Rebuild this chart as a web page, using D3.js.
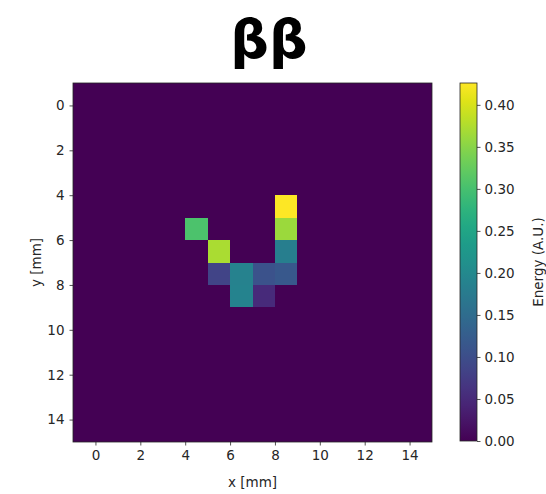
<!DOCTYPE html>
<html>
<head>
<meta charset="utf-8">
<script src="https://cdn.jsdelivr.net/npm/d3@7"></script>
<style>
  body { margin: 0; background: #fff; }
  text { font-family: "DejaVu Sans", sans-serif; fill: #262626; }
</style>
</head>
<body>
<div id="chart"></div>
<script>
// Detector grid (16 x 16 pixels, 1 mm pitch), most pixels empty
const gridSize = 16;
const gridStart = -1;               // first pixel edge, mm
// hit pixels: left edge x, top edge y (mm) and deposited energy
const hitX = [8, 8, 4, 5, 8, 5, 6, 7, 8, 6, 7];
const hitY = [4, 5, 5, 6, 6, 7, 7, 7, 7, 8, 8];
const hitEnergy = [0.426, 0.362, 0.305, 0.372, 0.180, 0.086, 0.188, 0.107, 0.115, 0.190, 0.050];

const axisTicks = [0, 2, 4, 6, 8, 10, 12, 14];
const colorTicks = [0, 0.05, 0.10, 0.15, 0.20, 0.25, 0.30, 0.35, 0.40];
const energyMax = 0.426;
const titleText = "ββ";

// build full grid from hits
const cells = [];
for (let i = 0; i < gridSize; i++) {
  for (let j = 0; j < gridSize; j++) {
    cells.push({ x: gridStart + i, y: gridStart + j, e: 0 });
  }
}
hitX.forEach((hx, k) => {
  const c = cells.find(d => d.x === hx && d.y === hitY[k]);
  c.e = hitEnergy[k];
});

const width = 546, height = 494;
const plot = { left: 73, top: 83, size: 359 };
const cbar = { left: 460, width: 17, top: 83, height: 358 };

const svg = d3.select("#chart")
  .append("svg")
    .attr("width", width)
    .attr("height", height);

const x = d3.scaleLinear()
  .domain([gridStart, gridStart + gridSize])
  .range([plot.left, plot.left + plot.size]);

const y = d3.scaleLinear()
  .domain([gridStart, gridStart + gridSize])
  .range([plot.top, plot.top + plot.size]);

const color = d3.scaleSequential(d3.interpolateViridis)
  .domain([0, energyMax]);

// Cells
svg.append("g")
  .attr("shape-rendering", "crispEdges")
  .selectAll("rect")
  .data(cells)
  .enter()
  .append("rect")
    .attr("x", d => x(d.x))
    .attr("y", d => y(d.y))
    .attr("width", x(1) - x(0))
    .attr("height", y(1) - y(0))
    .attr("fill", d => color(d.e));

// Axes
const xAxis = svg.append("g")
  .attr("transform", `translate(0,${plot.top + plot.size})`)
  .call(d3.axisBottom(x).tickValues(axisTicks).tickSize(3.5).tickPadding(5));

const yAxis = svg.append("g")
  .attr("transform", `translate(${plot.left},0)`)
  .call(d3.axisLeft(y).tickValues(axisTicks).tickSize(3.5).tickPadding(5));

[xAxis, yAxis].forEach(a => {
  a.select(".domain").remove();
  a.selectAll("line").attr("stroke", "#262626").attr("stroke-width", 0.8);
  a.selectAll("text").style("font-size", "13.5px").style("font-family", "DejaVu Sans, sans-serif").attr("fill", "#262626");
});

// Plot frame
svg.append("rect")
  .attr("x", plot.left)
  .attr("y", plot.top)
  .attr("width", plot.size)
  .attr("height", plot.size)
  .attr("fill", "none")
  .attr("stroke", "#262626")
  .attr("stroke-width", 0.8);

// Axis labels
svg.append("text")
  .attr("x", x(7))
  .attr("y", 487)
  .attr("text-anchor", "middle")
  .style("font-size", "13.5px")
  .text("x [mm]");

svg.append("text")
  .attr("transform", `translate(41,${y(7)}) rotate(-90)`)
  .attr("text-anchor", "middle")
  .style("font-size", "13.5px")
  .text("y [mm]");

// Colorbar
const cy = d3.scaleLinear()
  .domain([0, energyMax])
  .range([cbar.top + cbar.height, cbar.top]);

const defs = svg.append("defs");
const grad = defs.append("linearGradient")
  .attr("id", "cbgrad")
  .attr("x1", 0).attr("y1", 1).attr("x2", 0).attr("y2", 0);
d3.range(0, 1.0001, 0.05).forEach(t => {
  grad.append("stop")
    .attr("offset", t)
    .attr("stop-color", d3.interpolateViridis(t));
});

svg.append("rect")
  .attr("x", cbar.left)
  .attr("y", cbar.top)
  .attr("width", cbar.width)
  .attr("height", cbar.height)
  .attr("fill", "url(#cbgrad)")
  .attr("stroke", "#262626")
  .attr("stroke-width", 0.8);

const cAxis = svg.append("g")
  .attr("transform", `translate(${cbar.left + cbar.width},0)`)
  .call(d3.axisRight(cy).tickValues(colorTicks).tickFormat(d3.format(".2f")).tickSize(3.5).tickPadding(4));
cAxis.select(".domain").remove();
cAxis.selectAll("line").attr("stroke", "#262626").attr("stroke-width", 0.8);
cAxis.selectAll("text").style("font-size", "13.5px").style("font-family", "DejaVu Sans, sans-serif").attr("fill", "#262626");

svg.append("text")
  .attr("transform", `translate(543,${cbar.top + cbar.height / 2}) rotate(-90)`)
  .attr("text-anchor", "middle")
  .style("font-size", "13.5px")
  .text("Energy (A.U.)");

// Title
svg.append("text")
  .attr("x", 269)
  .attr("y", 58)
  .attr("text-anchor", "middle")
  .style("font-size", "54px")
  .style("font-weight", "bold")
  .style("fill", "#000")
  .text(titleText);
</script>
</body>
</html>
